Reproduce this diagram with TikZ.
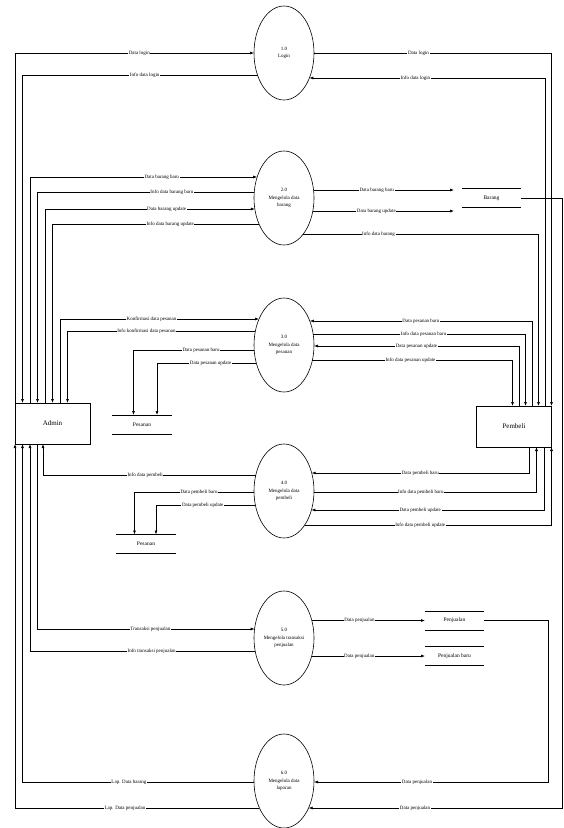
\documentclass[tikz,border=0pt]{standalone}
\usepackage{fontspec}
\setmainfont{Liberation Serif}
\usetikzlibrary{shapes.geometric, arrows.meta, calc}

\begin{document}
\begin{tikzpicture}[
  x=1pt, y=-1pt,
  every node/.style={font=\fontsize{5}{7.5}\selectfont},
  proc/.style={
    draw, ellipse, minimum width=60pt, minimum height=94pt,
    inner sep=0pt, outer sep=0pt, align=center, line width=0.6pt
  },
  entity/.style={
    draw, rectangle, minimum width=75pt, minimum height=41pt,
    inner sep=0pt, outer sep=0pt, line width=0.6pt,
    font=\fontsize{7}{8}\selectfont
  },
  store/.style={
    minimum width=60pt, minimum height=19pt, inner sep=0pt, outer sep=0pt,
    font=\fontsize{5.5}{6.5}\selectfont,
    append after command={
      (\tikzlastnode.north west) edge[line width=0.7pt] (\tikzlastnode.north east)
      (\tikzlastnode.south west) edge[line width=0.7pt] (\tikzlastnode.south east)}
  },
  flow/.style={-{Latex[length=4pt,width=3pt]}, line width=0.6pt},
  lbl/.style={fill=white, inner sep=0.6pt}
]
\useasboundingbox (0,0) rectangle (564,828);

%% ── Processes (middle column) ───────────────────────────────
\node[proc] (c1) at (284,53)  {1.0\\Login};
\node[proc] (c2) at (284,198) {2.0\\Mengelola data\\barang};
\node[proc] (c3) at (284,345) {3.0\\Mengelola data\\pesanan};
\node[proc] (c4) at (284,491) {4.0\\Mengelola data\\pembeli};
\node[proc] (c5) at (284,638) {5.0\\Mengelola transaksi\\penjualan};
\node[proc] (c6) at (284,781) {6.0\\Mengelola data\\laporan};

%% ── External entities ────────────────────────────────────────
\node[entity] (admin)   at (52.5,423.5) {Admin};
\node[entity] (pembeli) at (514,426.5)  {Pembeli};

%% ── Data stores ──────────────────────────────────────────────
\node[store, minimum width=59pt] (barang)    at (491.5,198)   {Barang};
\node[store]                     (pesanan1)  at (142,424.5)   {Pesanan};
\node[store]                     (pesanan2)  at (146,544)     {Pesanan};
\node[store, minimum width=59pt] (penjualan) at (454.5,620.5) {Penjualan};
\node[store, minimum width=59pt] (jualbaru)  at (454.5,656)   {Penjualan baru};

%% ── Admin flows (left side) ──────────────────────────────────
\draw[flow] (admin.north west) |- node[lbl,pos=0.76]{Data login} (c1.west);
\draw[flow] ($(c1)+(-26.5,22)$) -| node[lbl,pos=0.24]{Info data login}
      ($(admin.north west)+(7.5,0)$);
\draw[flow] ($(admin.north west)+(15,0)$) |- node[lbl,pos=0.79]{Data barang baru}
      ($(c2)+(-26.8,-21)$);
\draw[flow] ($(c2)+(-29.7,-6)$) -| node[lbl,pos=0.19]{Info data barang baru}
      ($(admin.north west)+(22.5,0)$);
\draw[flow] ($(admin.north west)+(30,0)$) |- node[lbl,pos=0.79]{Data barang update}
      ($(c2)+(-29.2,11)$);
\draw[flow] ($(c2)+(-25,26)$) -| node[lbl,pos=0.215]{Info data barang update}
      ($(admin.north west)+(37.5,0)$);
\draw[flow] ($(admin.north west)+(45,0)$) |- node[lbl,pos=0.73]{Konfirmasi data pesanan}
      ($(c3)+(-25,-26)$);
\draw[flow] ($(c3)+(-28.6,-14)$) -| node[lbl,pos=0.29]{Info konfirmasi data pesanan}
      ($(admin.north west)+(52.5,0)$);

\draw[flow] ($(c4)+(-28.2,-16)$) -| node[lbl,pos=0.26]{Info data pembeli}
      ($(admin.south west)+(28,0)$);
\draw[flow] ($(admin.south west)+(22.5,0)$) |- node[lbl,pos=0.76]{Transaksi penjualan}
      ($(c5)+(-29.4,-9)$);
\draw[flow] ($(c5)+(-28.8,13)$) -| node[lbl,pos=0.23]{Info transaksi penjualan}
      ($(admin.south west)+(15,0)$);
\draw[flow] ($(c6)+(-30,1)$) -| node[lbl,pos=0.27]{Lap. Data barang}
      ($(admin.south west)+(7.5,0)$);
\draw[flow] ($(c6)+(-24.6,27)$) -| node[lbl,pos=0.275]{Lap. Data penjualan}
      (admin.south west);

%% ── Store flows (left side) ──────────────────────────────────
\draw[flow] ($(c3)+(-29.8,5)$) -| node[lbl,pos=0.22]{Data pesanan baru}
      ($(pesanan1.north west)+(21.5,0)$);
\draw[flow] ($(c3)+(-27.7,18)$) -| node[lbl,pos=0.23]{Data pesanan update}
      ($(pesanan1.north west)+(45,0)$);
\draw[flow] ($(c4)+(-30,1)$) -| node[lbl,pos=0.23]{Data pembeli baru}
      ($(pesanan2.north west)+(18.5,0)$);
\draw[flow] ($(c4)+(-28.6,14)$) -| node[lbl,pos=0.265]{Data pembeli update}
      ($(pesanan2.north west)+(40,0)$);

%% ── Pembeli flows (right side) ───────────────────────────────
\draw[flow] (c1.east) -| node[lbl,pos=0.22]{Data login} (pembeli.north east);
\draw[flow] ($(pembeli.north east)+(-6.5,0)$) |- node[lbl,pos=0.775]{Info data login}
      ($(c1)+(25.4,25)$);
\draw[flow] ($(c2)+(19.3,36)$) -| node[lbl,pos=0.16]{Info data barang}
      ($(pembeli.north east)+(-13,0)$);
\draw[flow] ($(pembeli.north east)+(-19.5,0)$) |- node[lbl,pos=0.75]{Data pesanan baru}
      ($(c3)+(25.8,-24)$);
\draw[flow] ($(c3)+(29.2,-11)$) -| node[lbl,pos=0.26]{Info data pesanan baru}
      ($(pembeli.north east)+(-26,0)$);
\draw[flow] ($(pembeli.north east)+(-32.5,0)$) |- node[lbl,pos=0.75]{Data pesanan update}
      ($(c3)+(30,1)$);
\draw[flow] ($(c3)+(28.4,15)$) -| node[lbl,pos=0.245]{Info data pesanan update}
      ($(pembeli.north east)+(-39,0)$);

\draw[flow] ($(pembeli.south east)+(-22.5,0)$) |- node[lbl,pos=0.75]{Data pembeli baru}
      ($(c4)+(27.7,-18)$);
\draw[flow] ($(c4)+(30,1)$) -| node[lbl,pos=0.24]{Info data pembeli baru}
      ($(pembeli.south east)+(-15,0)$);
\draw[flow] ($(pembeli.south east)+(-7.5,0)$) |- node[lbl,pos=0.766]{Data pembeli update}
      ($(c4)+(27.4,19)$);
\draw[flow] ($(c4)+(20.7,34)$) -| node[lbl,pos=0.234]{Info data pembeli update}
      (pembeli.south east);

%% ── Store flows (right side) ─────────────────────────────────
\draw[flow] ($(c2)+(29.6,-8)$) -- node[lbl,pos=0.45]{Data barang baru}
      ($(barang.west)+(-8,-8)$);
\draw[flow] ($(c2)+(28.8,13)$) -- node[lbl,pos=0.45]{Data barang update}
      ($(barang.west)+(-8,13)$);
\draw[flow] ($(c5)+(28,-17.5)$) -- node[lbl,pos=0.42]{Data penjualan} (penjualan.west);
\draw[flow] ($(c5)+(27.7,18)$) -- node[lbl,pos=0.42]{Data penjualan} (jualbaru.west);

\draw[flow] (penjualan.east) -- ++(64,0) |- node[lbl,pos=0.78]{Data penjualan}
      ($(c6)+(30,1)$);
\draw[flow] (barang.east) -- ++(41,0) |- node[lbl,pos=0.79]{Data penjualan}
      ($(c6)+(24.6,27)$);

\end{tikzpicture}
\end{document}
